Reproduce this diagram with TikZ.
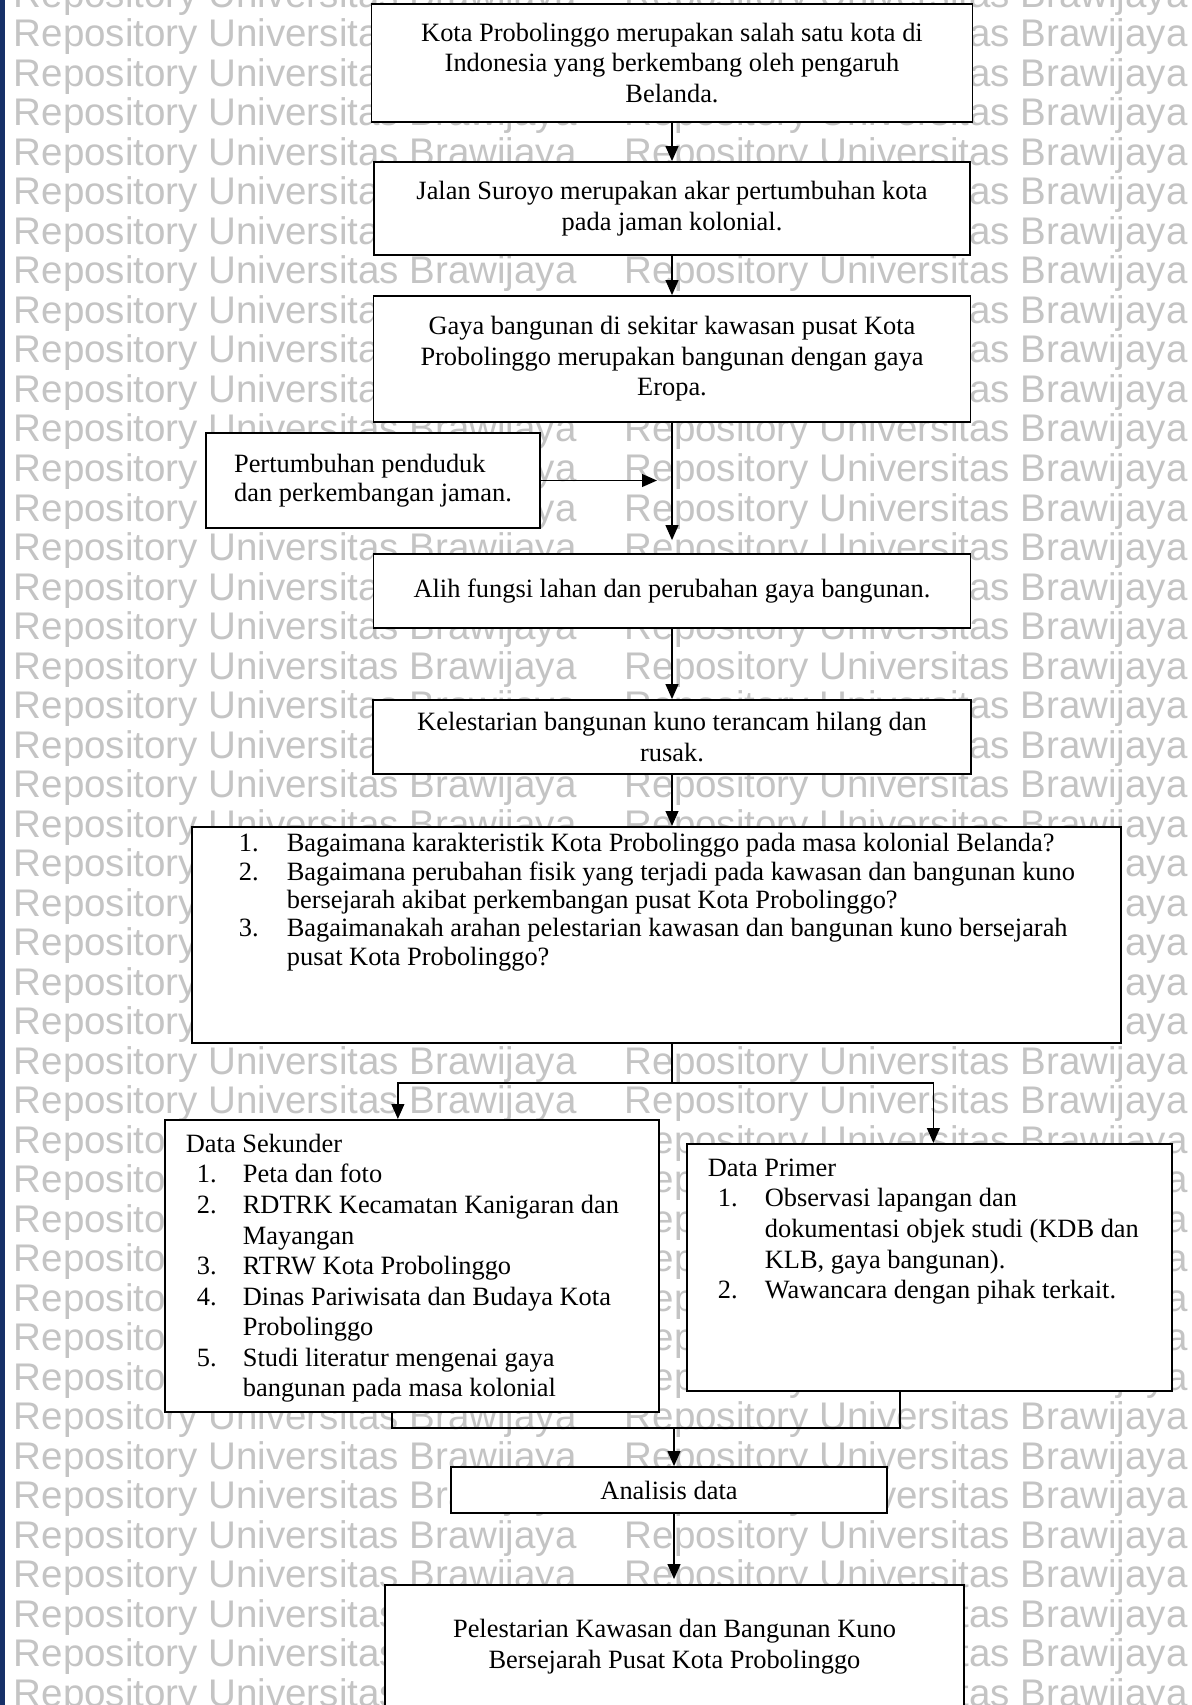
\documentclass[tikz,border=0pt]{standalone}
\usepackage{fontspec}
\setmainfont{Liberation Serif}
\newfontfamily\wmfont{Liberation Sans}
\usepackage{tikz}
\usetikzlibrary{arrows.meta}
\usetikzlibrary{positioning}
\newdimen\unitpx
\unitpx=0.4545pt
\definecolor{stripblue}{RGB}{22,48,104}
\definecolor{wmgray}{RGB}{196,196,196}

\begin{document}
\begin{tikzpicture}[
            x=0.4545pt, y=-0.4545pt,
            every node/.style={rectangle,draw,fill=white,line width=0.8pt,inner sep=0pt,
                font=\fontsize{12}{13.9}\selectfont},
            mark text/.style={draw=none,fill=none,anchor=base west,text=wmgray,
                font=\wmfont\fontsize{17.5}{18}\selectfont},
            flow box/.style={align=center},
            list box/.style={anchor=north west,inner xsep=21*\unitpx,inner ysep=11*\unitpx}
        ]
        \tikzset{>={Triangle[length=6.8pt,width=5.8pt]}}
        \tikzset{link/.style={draw,line width=0.8pt,->}}
        \useasboundingbox (0,0) rectangle (1191,1705);
        \fill[white] (0,0) rectangle (1191,1705);
        \foreach \row in {-1,...,43}
            \foreach \col in {13,624}
                \node[mark text] at (\col,47+39.5*\row) {Repository Universitas Brawijaya};
        \fill[stripblue] (0,0) rectangle (5,1705);

        \node[flow box,minimum width=601*\unitpx,minimum height=118*\unitpx] (kota node) at (672,63)
            {Kota Probolinggo merupakan salah satu kota di\\Indonesia yang berkembang oleh pengaruh\\Belanda.};
        \node[flow box,minimum width=596*\unitpx,minimum height=93*\unitpx] (jalan node) at (672,208.5)
            {Jalan Suroyo merupakan akar pertumbuhan kota\\pada jaman kolonial.};
        \node[flow box,minimum width=597*\unitpx,minimum height=126*\unitpx] (gaya node) at (672,359)
            {Gaya bangunan di sekitar kawasan pusat Kota\\Probolinggo merupakan bangunan dengan gaya\\Eropa.};
        \node[align=left,minimum width=334*\unitpx,minimum height=95*\unitpx,
            font=\fontsize{12}{13}\selectfont] (penduduk node) at (373,480.5)
            {Pertumbuhan penduduk\\dan perkembangan jaman.};
        \node[flow box,minimum width=597*\unitpx,minimum height=74*\unitpx] (alih node) at (672,591)
            {Alih fungsi lahan dan perubahan gaya bangunan.};
        \node[flow box,minimum width=598*\unitpx,minimum height=74*\unitpx] (lestari node) at (672,737)
            {Kelestarian bangunan kuno terancam hilang dan\\rusak.};
        \node[anchor=north west] (masalah node) at (191,826)
            {\parbox[c][216\unitpx][t]{929\unitpx}{\fontsize{12}{12.9}\selectfont
            \vspace*{5\unitpx}
            \begin{tabular}{@{\hspace{47\unitpx}}p{48\unitpx}@{}l@{}}
                1. & Bagaimana karakteristik Kota Probolinggo pada masa kolonial Belanda?\\
                2. & Bagaimana perubahan fisik yang terjadi pada kawasan dan bangunan kuno\\
                   & bersejarah akibat perkembangan pusat Kota Probolinggo?\\
                3. & Bagaimanakah arahan pelestarian kawasan dan bangunan kuno bersejarah\\
                   & pusat Kota Probolinggo?
            \end{tabular}}};
        \node[list box] (sekunder node) at (164,1119)
            {\parbox[c][270\unitpx][t]{452\unitpx}{%
            \begin{tabular}{@{\hspace{11\unitpx}}p{46\unitpx}@{}l@{}}
                \multicolumn{2}{@{}l@{}}{Data Sekunder}\\
                1. & Peta dan foto\\
                2. & RDTRK Kecamatan Kanigaran dan\\
                   & Mayangan\\
                3. & RTRW Kota Probolinggo\\
                4. & Dinas Pariwisata dan Budaya Kota\\
                   & Probolinggo\\
                5. & Studi literatur mengenai gaya\\
                   & bangunan pada masa kolonial
            \end{tabular}}};
        \node[list box] (primer node) at (686,1143)
            {\parbox[c][225\unitpx][t]{443\unitpx}{%
            \begin{tabular}{@{\hspace{10\unitpx}}p{47\unitpx}@{}l@{}}
                \multicolumn{2}{@{}l@{}}{Data Primer}\\
                1. & Observasi lapangan dan\\
                   & dokumentasi objek studi (KDB dan\\
                   & KLB, gaya bangunan).\\
                2. & Wawancara dengan pihak terkait.
            \end{tabular}}};
        \node[flow box,minimum width=436*\unitpx,minimum height=46*\unitpx] (analisis node) at (669,1490)
            {Analisis data};
        \node[flow box,minimum width=579*\unitpx,minimum height=123*\unitpx] (hasil node) at (674.5,1646.5)
            {Pelestarian Kawasan dan Bangunan Kuno\\Bersejarah Pusat Kota Probolinggo};

        \draw[link] (kota node) -- (jalan node);
        \draw[link] (jalan node) -- (gaya node);
        \draw[link,shorten >=13*\unitpx] (gaya node) -- (alih node);
        \draw[link,shorten >=15*\unitpx] (penduduk node.east) -- (penduduk node.east -| gaya node.south);
        \draw[link] (alih node) -- (lestari node);
        \draw[link] (lestari node.south) -- (lestari node.south |- masalah node.north);

        \coordinate (pisah) at (672,1083);
        \draw[line width=0.8pt] (masalah node.south -| pisah) -- (pisah);
        \draw[link] (pisah) -| ([xshift=-14*\unitpx]sekunder node.north);
        \draw[link] (pisah) -| ([xshift=4*\unitpx]primer node.north);

        \coordinate (gabung kiri) at (392,1428);
        \coordinate (gabung kanan) at (900,1428);
        \coordinate (gabung) at (674,1428);
        \draw[line width=0.8pt] (sekunder node.south -| gabung kiri) -- (gabung kiri)
            -- (gabung kanan) -- (primer node.south -| gabung kanan);
        \draw[link] (gabung) -- (gabung |- analisis node.north);
        \draw[link,shorten >=5*\unitpx] (analisis node.south -| gabung) -- (gabung |- hasil node.north);
    \end{tikzpicture}
\end{document}
